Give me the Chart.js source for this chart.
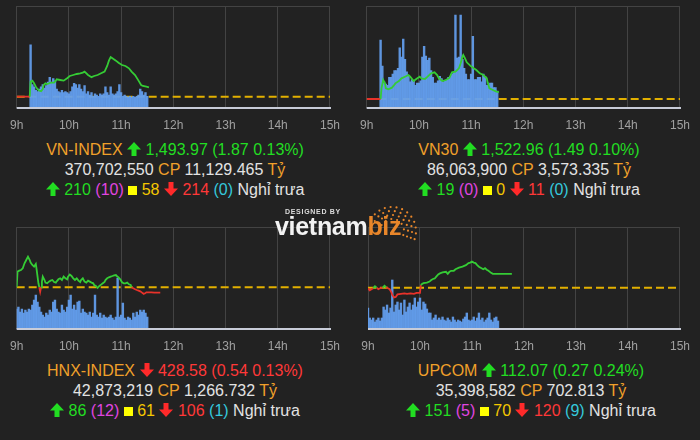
<!DOCTYPE html>
<html><head><meta charset="utf-8">
<script src="https://cdn.jsdelivr.net/npm/chart.js@4.4.1/dist/chart.umd.min.js"></script>
<style>
html,body{margin:0;padding:0;background:#222;}
body{width:700px;height:440px;position:relative;overflow:hidden;font-family:"Liberation Sans",Arial,sans-serif;}
canvas{position:absolute;}
.info{position:absolute;text-align:center;font-size:16px;line-height:20px;color:#e2e2e2;white-space:nowrap;}
.o{color:#f0a02a}.g{color:#22dd22}.r{color:#ff3838}.m{color:#e045e0}.y{color:#f5c800}.c{color:#35c8dc}.w{color:#e2e2e2}
.sq{display:inline-block;width:9px;height:9px;background:#ffff00;vertical-align:0px;}
svg.ar{vertical-align:-1px}
#logo{position:absolute;left:270px;top:200px;width:160px;height:45px;}
#designed{position:absolute;left:15px;top:8px;font-size:7px;font-weight:bold;letter-spacing:0.7px;color:#dcdcdc;}
#brand{position:absolute;left:5px;top:13px;font-size:25px;font-weight:bold;line-height:26px;color:#f2f2f2;letter-spacing:-0.3px;}
#brand .biz{color:#e8862a}
#dots{position:absolute;left:92px;top:-4px;}
</style></head>
<body>
<canvas id="c1" width="350" height="140" style="left:0;top:0"></canvas>
<canvas id="c2" width="350" height="140" style="left:350px;top:0"></canvas>
<canvas id="c3" width="350" height="140" style="left:0;top:220px"></canvas>
<canvas id="c4" width="350" height="140" style="left:350px;top:220px"></canvas>

<div class="info" style="left:0;top:140px;width:350px">
 <div><span class="o">VN-INDEX</span> <svg class="ar" width="14" height="14" viewBox="0 0 14 14"><polygon points="7,0 14,7.5 9.5,7.5 9.5,14 4.5,14 4.5,7.5 0,7.5" fill="#22dd22"/></svg> <span class="g">1,493.97 (1.87 0.13%)</span></div>
 <div><span class="w">370,702,550</span> <span class="o">CP</span> <span class="w">11,129.465</span> <span class="o">Tỷ</span></div>
 <div><svg class="ar" width="14" height="14" viewBox="0 0 14 14"><polygon points="7,0 14,7.5 9.5,7.5 9.5,14 4.5,14 4.5,7.5 0,7.5" fill="#22dd22"/></svg> <span class="g">210</span> <span class="m">(10)</span> <i class="sq"></i> <span class="y">58</span> <svg class="ar" width="14" height="14" viewBox="0 0 14 14"><polygon points="7,14 14,6.5 9.5,6.5 9.5,0 4.5,0 4.5,6.5 0,6.5" fill="#ff2a2a"/></svg> <span class="r">214</span> <span class="c">(0)</span> <span class="w">Nghỉ trưa</span></div>
</div>
<div class="info" style="left:354px;top:140px;width:350px">
 <div><span class="o">VN30</span> <svg class="ar" width="14" height="14" viewBox="0 0 14 14"><polygon points="7,0 14,7.5 9.5,7.5 9.5,14 4.5,14 4.5,7.5 0,7.5" fill="#22dd22"/></svg> <span class="g">1,522.96 (1.49 0.10%)</span></div>
 <div><span class="w">86,063,900</span> <span class="o">CP</span> <span class="w">3,573.335</span> <span class="o">Tỷ</span></div>
 <div><svg class="ar" width="14" height="14" viewBox="0 0 14 14"><polygon points="7,0 14,7.5 9.5,7.5 9.5,14 4.5,14 4.5,7.5 0,7.5" fill="#22dd22"/></svg> <span class="g">19</span> <span class="m">(0)</span> <i class="sq"></i> <span class="y">0</span> <svg class="ar" width="14" height="14" viewBox="0 0 14 14"><polygon points="7,14 14,6.5 9.5,6.5 9.5,0 4.5,0 4.5,6.5 0,6.5" fill="#ff2a2a"/></svg> <span class="r">11</span> <span class="c">(0)</span> <span class="w">Nghỉ trưa</span></div>
</div>
<div class="info" style="left:0;top:361px;width:350px">
 <div><span class="o">HNX-INDEX</span> <svg class="ar" width="14" height="14" viewBox="0 0 14 14"><polygon points="7,14 14,6.5 9.5,6.5 9.5,0 4.5,0 4.5,6.5 0,6.5" fill="#ff2a2a"/></svg> <span class="r">428.58 (0.54 0.13%)</span></div>
 <div><span class="w">42,873,219</span> <span class="o">CP</span> <span class="w">1,266.732</span> <span class="o">Tỷ</span></div>
 <div><svg class="ar" width="14" height="14" viewBox="0 0 14 14"><polygon points="7,0 14,7.5 9.5,7.5 9.5,14 4.5,14 4.5,7.5 0,7.5" fill="#22dd22"/></svg> <span class="g">86</span> <span class="m">(12)</span> <i class="sq"></i> <span class="y">61</span> <svg class="ar" width="14" height="14" viewBox="0 0 14 14"><polygon points="7,14 14,6.5 9.5,6.5 9.5,0 4.5,0 4.5,6.5 0,6.5" fill="#ff2a2a"/></svg> <span class="r">106</span> <span class="c">(1)</span> <span class="w">Nghỉ trưa</span></div>
</div>
<div class="info" style="left:356px;top:361px;width:350px">
 <div><span class="o">UPCOM</span> <svg class="ar" width="14" height="14" viewBox="0 0 14 14"><polygon points="7,0 14,7.5 9.5,7.5 9.5,14 4.5,14 4.5,7.5 0,7.5" fill="#22dd22"/></svg> <span class="g">112.07 (0.27 0.24%)</span></div>
 <div><span class="w">35,398,582</span> <span class="o">CP</span> <span class="w">702.813</span> <span class="o">Tỷ</span></div>
 <div><svg class="ar" width="14" height="14" viewBox="0 0 14 14"><polygon points="7,0 14,7.5 9.5,7.5 9.5,14 4.5,14 4.5,7.5 0,7.5" fill="#22dd22"/></svg> <span class="g">151</span> <span class="m">(5)</span> <i class="sq"></i> <span class="y">70</span> <svg class="ar" width="14" height="14" viewBox="0 0 14 14"><polygon points="7,14 14,6.5 9.5,6.5 9.5,0 4.5,0 4.5,6.5 0,6.5" fill="#ff2a2a"/></svg> <span class="r">120</span> <span class="c">(9)</span> <span class="w">Nghỉ trưa</span></div>
</div>

<div id="logo">
 <div id="designed">DESIGNED BY</div>
 <div id="brand">vietnam<span class="biz">biz</span></div>
 <svg id="dots" width="60" height="50"></svg>
</div>

<script>
// ---------- data (minutes after 9:00; volumes in 10,000 shares per 2-minute bar) ----------
const HOUR_LABELS = ['9h','10h','11h','12h','13h','14h','15h'];

const vnIndexRef = 1492.10;
const vnIndexTimes = [0,15,16,18,20,22,24,26,28,30,31,33,35,39,43,45,46,50,54,58,61,65,69,73,76,78,82,86,89,93,97,101,104,106,108,110,114,117,121,125,129,132,136,140,143,145,149,152];
const vnIndexPrices = [1492.10,1492.10,1495.10,1495.30,1494.77,1494.10,1493.60,1493.30,1493.20,1493.60,1494.43,1494.77,1494.63,1494.90,1494.90,1495.30,1495.57,1495.43,1495.30,1495.77,1496.23,1496.43,1496.63,1496.77,1496.90,1497.10,1496.43,1496.00,1496.23,1496.43,1496.77,1497.10,1498.23,1499.30,1500.00,1499.77,1499.30,1498.90,1498.43,1498.23,1497.77,1497.10,1496.43,1495.30,1494.43,1494.23,1494.10,1493.97];
const vnIndexVolStart = 16;
const vnIndexVolumes = [1610,600,540,450,420,480,540,600,510,570,660,780,660,750,690,480,420,390,450,390,420,390,360,420,540,630,600,510,600,480,420,570,360,420,330,390,300,360,330,300,360,330,360,540,390,330,540,360,330,360,420,600,390,300,330,300,270,300,270,300,270,300,330,480,420,330,390,300];

const vn30Ref = 1521.47;
const vn30Times = [0,16,17,19,21,22,25,29,31,33,37,40,44,48,50,54,57,61,63,67,70,74,78,81,83,87,91,95,98,102,106,108,110,111,113,115,119,123,126,130,134,138,139,141,145,149,152];
const vn30Prices = [1521.47,1521.47,1523.76,1525.56,1524.84,1523.76,1523.55,1523.91,1524.34,1524.84,1525.34,1525.92,1526.27,1526.63,1526.27,1525.34,1525.77,1526.27,1525.92,1525.77,1526.27,1526.99,1527.21,1526.63,1525.92,1525.34,1525.56,1526.00,1527.21,1527.35,1528.07,1529.14,1530.58,1530.93,1530.22,1529.36,1528.64,1528.07,1527.71,1526.99,1526.63,1525.92,1525.06,1523.76,1523.41,1523.05,1522.96];
const vn30VolStart = 16;
const vn30Volumes = [240,148,92,84,80,108,108,120,132,132,140,212,180,243,172,128,112,92,100,96,80,88,88,96,180,218,183,168,176,132,108,88,88,96,112,104,92,96,100,108,112,120,128,328,176,180,328,172,140,120,100,100,120,253,100,100,108,108,92,120,112,80,80,88,88,72,72,60];

const hnxRef = 429.12;
const hnxTimes = [0,1,3,5,7,9,11,13,15,16,18,20,22,23,25,26,27,28,29,30,31,32,33,35,37,39,41,43,45,46,48,50,52,54,56,58,59,61,63,65,67,69,71,73,74,76,78,80,82,84,86,88,89,91,93,95,97,99,101,102,104,106,108,110,112,114,115,117,119,121,123,125,127,129,131,132,134,136,138,140,142,144,145,147,149,151,155,158,165];
const hnxPrices = [429.12,430.69,430.79,430.85,431.02,431.52,431.85,432.19,431.85,431.59,431.35,431.19,431.45,430.85,429.52,429.12,428.69,429.12,429.69,430.19,430.02,429.85,429.59,429.52,429.69,429.79,429.85,429.65,429.59,429.72,429.92,430.02,429.85,430.19,430.02,429.92,430.19,430.39,430.25,430.02,429.85,430.02,429.79,429.65,429.85,430.02,429.69,429.59,429.79,429.69,429.59,429.52,429.35,429.25,429.05,429.25,429.39,429.52,429.65,429.85,430.02,430.12,430.19,430.25,430.32,430.35,430.25,430.12,429.92,429.62,429.52,429.52,429.59,429.42,429.35,429.12,429.02,428.92,428.85,428.79,428.72,428.59,428.52,428.49,428.62,428.62,428.62,428.58,428.58];
const hnxVolStart = 0;
const hnxVolumes = [60,66,51,60,48,57,51,60,57,72,87,102,81,66,51,42,36,48,42,57,51,81,87,60,51,48,72,57,51,66,87,102,60,72,57,81,84,48,60,51,48,42,51,36,48,102,42,36,48,33,42,36,33,36,42,33,27,36,153,36,42,78,33,27,36,33,27,48,36,51,42,57,51,57,48,36];

const upcomRef = 111.80;
const upcomTimes = [0,2,4,6,8,10,12,14,17,19,21,23,25,27,28,30,32,34,38,42,45,49,53,56,60,61,62,64,68,71,73,75,77,79,81,83,86,90,92,94,96,99,101,105,109,113,116,118,120,122,124,126,128,131,133,135,137,139,142,144,146,150,154,159,166];
const upcomPrices = [111.79,111.75,111.77,111.79,111.83,111.80,111.77,111.79,111.80,111.84,111.81,111.79,111.77,111.71,111.66,111.61,111.62,111.67,111.68,111.69,111.68,111.69,111.68,111.70,111.70,111.85,111.87,111.89,111.90,111.92,111.95,111.97,111.98,112.02,112.06,112.08,112.10,112.11,112.07,112.11,112.13,112.13,112.16,112.19,112.21,112.24,112.28,112.29,112.31,112.29,112.28,112.24,112.21,112.18,112.16,112.18,112.15,112.13,112.09,112.07,112.07,112.07,112.07,112.07,112.07];
const upcomVolStart = 0;
const upcomVolumes = [63,33,27,33,21,27,33,24,33,66,57,72,48,63,147,51,72,81,57,78,42,87,51,66,78,57,72,93,66,81,93,57,81,75,60,48,48,27,33,42,27,33,27,36,27,24,33,27,21,36,27,21,27,24,21,30,36,48,27,24,27,36,24,33,48,27,33,21,27,33,48,27,21,33,36,24];

// ---------- drawing ----------
const FONT = '"Liberation Sans", Arial, sans-serif';
const GREEN = '#35cc35', RED = '#e8322a';

const framePlugin = {
  id: 'frame',
  beforeDatasetsDraw(chart) {
    const {ctx, chartArea: a} = chart;
    ctx.save();
    ctx.strokeStyle = '#434343'; ctx.lineWidth = 1;
    ctx.beginPath(); ctx.moveTo(a.left, Math.round(a.top) + 0.5); ctx.lineTo(a.right, Math.round(a.top) + 0.5); ctx.stroke();
    ctx.restore();
  },
  afterDatasetsDraw(chart) {
    const {ctx, chartArea: a} = chart;
    ctx.save();
    ctx.strokeStyle = '#c8ccd8'; ctx.lineWidth = 2;
    ctx.beginPath(); ctx.moveTo(a.left, a.bottom); ctx.lineTo(a.right + 1, a.bottom); ctx.stroke();
    ctx.restore();
  }
};

function makePanel(id, o) {
  new Chart(document.getElementById(id), {
    type: 'line',
    data: {
      datasets: [
        {
          type: 'line', yAxisID: 'yp', order: 0,
          data: o.times.map((t, i) => ({x: t, y: o.prices[i]})),
          borderColor: GREEN, borderWidth: 1.8, pointRadius: 0, tension: 0,
          segment: {borderColor: c => ((c.p0.parsed.y + c.p1.parsed.y) / 2 > o.ref + 1e-9 ? GREEN : RED)}
        },
        {
          type: 'bar', yAxisID: 'yv', order: 1,
          data: o.vols.map((v, i) => ({x: o.volStart + 2 * i, y: v})),
          backgroundColor: 'rgba(100,160,240,0.92)', barPercentage: 1, categoryPercentage: 1
        },
        {
          type: 'line', yAxisID: 'yp', order: 2,
          data: [{x: 0, y: o.ref}, {x: 360, y: o.ref}],
          borderColor: '#e2b000', borderWidth: 2, borderDash: [8, 4], pointRadius: 0
        }
      ]
    },
    options: {
      responsive: false, animation: false, devicePixelRatio: 1,
      layout: {padding: o.pad},
      plugins: {legend: {display: false}, tooltip: {enabled: false}},
      scales: {
        x: {
          type: 'linear', min: 0, max: 360, offset: false,
          grid: {color: '#434343', drawTicks: false, offset: false},
          border: {display: false},
          ticks: {stepSize: 60, autoSkip: false, maxRotation: 0, padding: 10, color: '#a0a0a0',
                  font: {size: 12, family: FONT}, callback: v => HOUR_LABELS[Math.round(v / 60)]},
          afterFit: s => { s.height = o.axisH; }
        },
        yp: {display: false, min: o.pmin, max: o.pmax},
        yv: {display: false, min: 0, max: o.vmax}
      }
    },
    plugins: [framePlugin]
  });
}

makePanel('c1', {ref: vnIndexRef, times: vnIndexTimes, prices: vnIndexPrices, volStart: vnIndexVolStart, vols: vnIndexVolumes,
  pmin: 1489.83, pmax: 1510.23, vmax: 2600, pad: {left: 12, right: 17, top: 6, bottom: 0}, axisH: 32});
makePanel('c2', {ref: vn30Ref, times: vn30Times, prices: vn30Prices, volStart: vn30VolStart, vols: vn30Volumes,
  pmin: 1519.54, pmax: 1541.47, vmax: 360, pad: {left: 16, right: 13, top: 6, bottom: 0}, axisH: 32});
makePanel('c3', {ref: hnxRef, times: hnxTimes, prices: hnxPrices, volStart: hnxVolStart, vols: hnxVolumes,
  pmin: 424.95, pmax: 435.15, vmax: 306, pad: {left: 12, right: 17, top: 7, bottom: 0}, axisH: 31});
makePanel('c4', {ref: upcomRef, times: upcomTimes, prices: upcomPrices, volStart: upcomVolStart, vols: upcomVolumes,
  pmin: 110.995, pmax: 112.984, vmax: 306, pad: {left: 18, right: 11, top: 7, bottom: 0}, axisH: 31});

// logo decoration dots
(function () {
  const svg = document.getElementById('dots');
  const cx = 30, cy = 35;
  const rings = [[12, 7], [16, 9], [20, 11], [24, 13]];
  let s = '';
  rings.forEach(([r, n]) => {
    for (let k = 0; k < n; k++) {
      const ang = (-150 + k * (170 / (n - 1))) * Math.PI / 180;
      s += `<circle cx="${(cx + r * Math.cos(ang)).toFixed(1)}" cy="${(cy + r * Math.sin(ang)).toFixed(1)}" r="1.1" fill="#e8862a"/>`;
    }
  });
  svg.innerHTML = s;
})();
</script>
</body></html>
